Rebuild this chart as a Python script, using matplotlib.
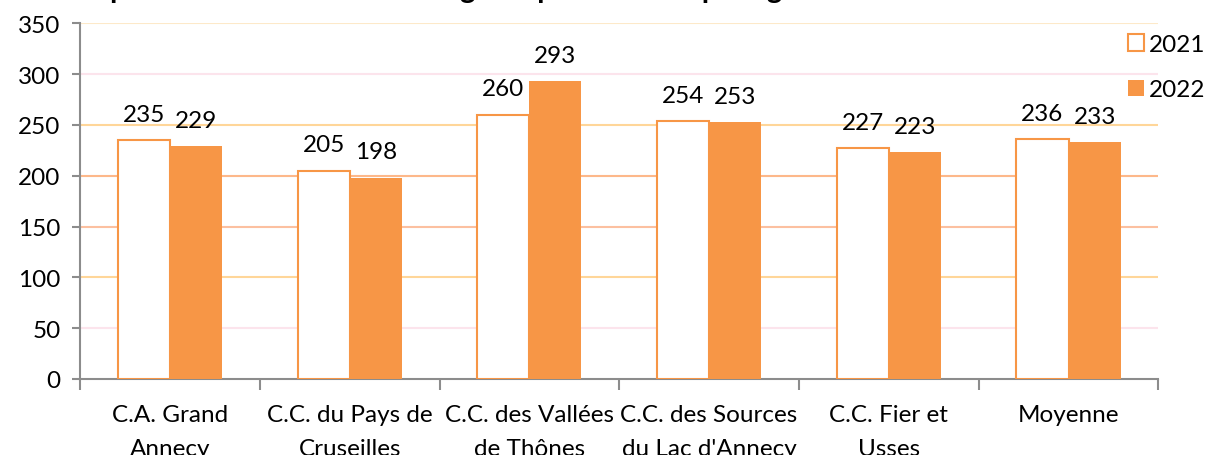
import matplotlib.pyplot as plt
import numpy as np

# Donnees (kg / habitant)
categories = ["C.A. Grand\nAnnecy", "C.C. du Pays de\nCruseilles", "C.C. des Vallées\nde Thônes",
              "C.C. des Sources\ndu Lac d'Annecy", "C.C. Fier et\nUsses", "Moyenne"]
val_2021 = [235, 205, 260, 254, 227, 236]
val_2022 = [229, 198, 293, 253, 223, 233]
series_names = ["2021", "2022"]
yticks = [0, 50, 100, 150, 200, 250, 300, 350]

orange = "#F79646"
axis_grey = "#8C8C8C"
grid_colors = {50: "#FCE4EC", 100: "#FFD699", 150: "#FCC0A0", 200: "#FDB88A",
               250: "#FFD699", 300: "#FCE4EC", 350: "#FDE9C9"}

plt.rcParams["font.family"] = ["Lato", "DejaVu Sans"]
FS = 17.5

fig = plt.figure(figsize=(12.13, 4.56), dpi=100)
ax = fig.add_axes([0.066, 0.1667, 0.889, 0.780])

x = np.arange(len(categories))
w = 0.29

b1 = ax.bar(x - w / 2, val_2021, w, facecolor="white", edgecolor=orange, linewidth=1.5,
            label=series_names[0], zorder=3)
b2 = ax.bar(x + w / 2, val_2022, w, facecolor=orange, edgecolor=orange, linewidth=0,
            label=series_names[1], zorder=3)

for bars in (b1, b2):
    for r in bars:
        ax.annotate(str(int(r.get_height())), (r.get_x() + r.get_width() / 2, r.get_height()),
                    xytext=(0, 11), textcoords="offset points", ha="center", va="bottom",
                    fontsize=FS, color="black")

# lignes de grille colorees
for yv, c in grid_colors.items():
    ax.axhline(yv, color=c, linewidth=1.5, zorder=1)

ax.set_ylim(0, 350)
ax.set_xlim(-0.5, len(categories) - 0.5)
ax.set_yticks(yticks)
ax.tick_params(axis="y", labelsize=FS, length=6, width=1.5, color=axis_grey, pad=8)

ax.set_xticks(x)
ax.set_xticklabels(categories, fontsize=FS, linespacing=1.75)
ax.tick_params(axis="x", length=0, pad=18)
ax.set_xticks(np.arange(len(categories) + 1) - 0.5, minor=True)
ax.tick_params(axis="x", which="minor", length=8, width=1.5, color=axis_grey)

for s in ["top", "right"]:
    ax.spines[s].set_visible(False)
for s in ["left", "bottom"]:
    ax.spines[s].set_color(axis_grey)
    ax.spines[s].set_linewidth(1.5)

leg = ax.legend(loc="upper left", bbox_to_anchor=(0.972, 0.97), frameon=False, fontsize=FS,
                handlelength=0.65, handleheight=0.65, handletextpad=0.2, labelspacing=1.0,
                borderaxespad=0, borderpad=0)

# titre (coupe en haut comme dans l'original)
fig.text(0.0, 1.022, "Taux de production d'ordures ménagères par habitant par kg",
         fontsize=21, fontweight="bold", ha="left", va="center")

fig.savefig("out.png", dpi=100)
